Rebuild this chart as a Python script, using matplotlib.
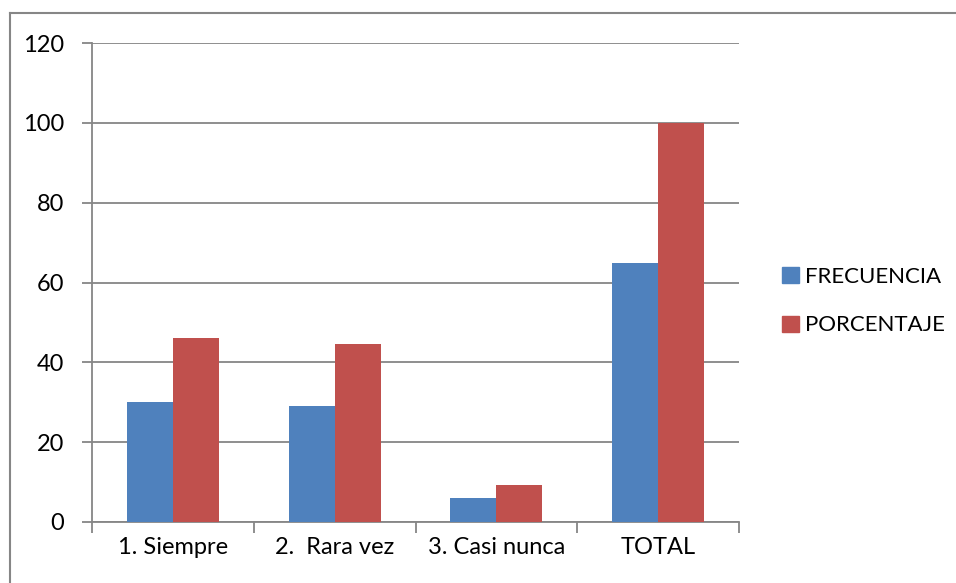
import matplotlib
matplotlib.use("Agg")
import matplotlib.pyplot as plt
from matplotlib.lines import Line2D
import numpy as np

categories = ["1. Siempre", "2.  Rara vez", "3. Casi nunca", "TOTAL"]
frecuencia = [30, 29, 6, 65]
porcentaje = [46.2, 44.6, 9.2, 100]
series_names = ["FRECUENCIA", "PORCENTAJE"]
y_ticks = [0, 20, 40, 60, 80, 100, 120]

plt.rcParams['font.family'] = ['Lato', 'DejaVu Sans']

W, H = 956, 583
fs = 17
fig = plt.figure(figsize=(W/100, H/100), dpi=100)
ax = fig.add_axes([92/W, 1-522/H, (739-92)/W, (522-43)/H])

x = np.arange(len(categories)) + 0.5
bw = 0.285
blue = "#4F81BD"
red = "#C0504D"
ax.bar(x - bw/2, frecuencia, bw, color=blue, label=series_names[0], zorder=3)
ax.bar(x + bw/2, porcentaje, bw, color=red, label=series_names[1], zorder=3)

ax.set_xlim(0, len(categories))
ax.set_ylim(0, 120)
ax.set_yticks(y_ticks)
ax.set_yticklabels([str(v) for v in y_ticks], fontsize=fs)
ax.yaxis.grid(True, color="#868686", linewidth=1.3, zorder=0)
ax.set_axisbelow(True)

ax.set_xticks(np.arange(len(categories)+1))
ax.set_xticklabels([])
ax.set_xticks(x, minor=True)
ax.set_xticklabels(categories, minor=True, fontsize=fs)
ax.tick_params(axis='x', which='minor', length=0, pad=11)
ax.tick_params(axis='x', which='major', length=8, color="#868686", width=1.3)
ax.tick_params(axis='y', length=7, color="#868686", width=1.3, pad=13)

for s in ["top", "right"]:
    ax.spines[s].set_visible(False)
for s in ["left", "bottom"]:
    ax.spines[s].set_color("#868686")
    ax.spines[s].set_linewidth(1.3)

leg = fig.legend(handles=[plt.Rectangle((0, 0), 1, 1, color=blue),
                          plt.Rectangle((0, 0), 1, 1, color=red)],
                 labels=series_names, loc="center left",
                 bbox_to_anchor=(762/W, 1-301/H), frameon=False,
                 fontsize=16, handlelength=0.75, handleheight=0.75,
                 handletextpad=0.3, labelspacing=1.3)

fig.add_artist(Line2D([10/W, 1], [1-13/H, 1-13/H], color="#868686", linewidth=1.5, transform=fig.transFigure))
fig.add_artist(Line2D([10/W, 10/W], [0, 1-13/H], color="#868686", linewidth=1.5, transform=fig.transFigure))

fig.savefig("out.png", dpi=100)
